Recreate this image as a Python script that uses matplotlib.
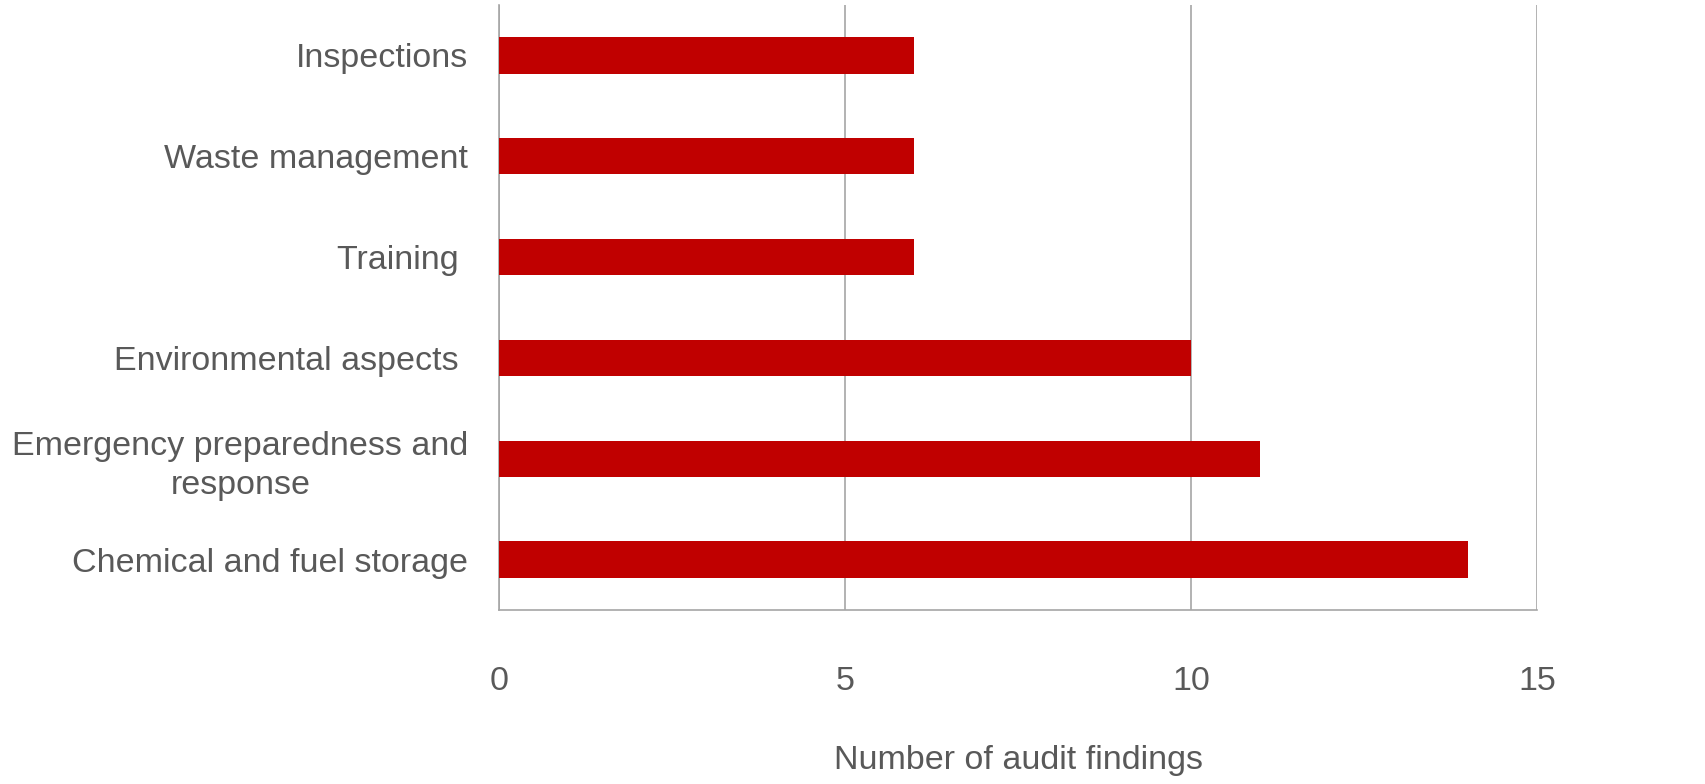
import matplotlib.pyplot as plt
import numpy as np

plt.rcParams['font.family'] = ['Liberation Sans', 'DejaVu Sans']

# ======================================================================
# Data.
# ======================================================================

categories = [
    'Chemical and fuel storage',
    'Emergency preparedness and\nresponse',
    'Environmental aspects ',
    'Training ',
    'Waste management',
    'Inspections',
    ]
findings = [14, 11, 10, 6, 6, 6]
xticks = [0, 5, 10, 15]

# ======================================================================
# Plot.
# ======================================================================

text_col = '#595959'
grid_col = '#a6a6a6'
fs = 24.5

fig = plt.figure(figsize=(17.06, 7.84), dpi=100)
ax = fig.add_axes([0.2925, 0.222, 0.6085, 0.7716])

y = np.arange(len(categories))
ax.barh(y, findings, height=0.36, color='#c00000', zorder=3)

ax.set_xlim(0, 15)
ax.set_ylim(-0.5, len(categories)-0.5)
ax.set_xticks(xticks)
ax.set_yticks(y)
ax.set_yticklabels(categories, fontsize=fs, color=text_col, linespacing=1.32)
ax.tick_params(axis='x', labelsize=fs, labelcolor=text_col, length=0, pad=40)
ax.tick_params(axis='y', length=0, pad=22)
ax.xaxis.grid(True, color=grid_col, linewidth=1.2)
for lbl in ax.get_yticklabels():
    lbl.set_horizontalalignment('right')
    lbl.set_multialignment('center')

for s in ['top', 'right']:
    ax.spines[s].set_visible(False)
for s in ['left', 'bottom']:
    ax.spines[s].set_color(grid_col)
    ax.spines[s].set_linewidth(1.2)

ax.set_xlabel('Number of audit findings', fontsize=fs, color=text_col, labelpad=35)

fig.savefig('out.png', dpi=100)
plt.close()
